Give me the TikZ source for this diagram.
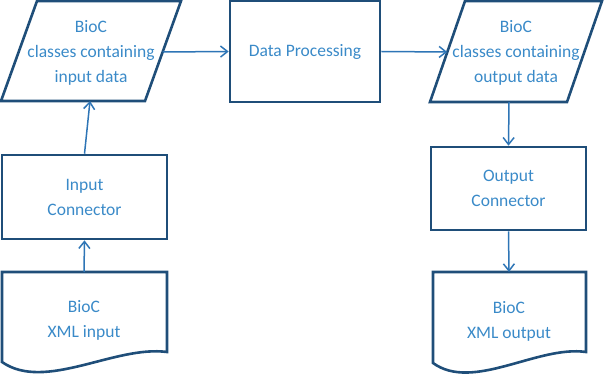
\documentclass[tikz,border=0pt]{standalone}
\usepackage{fontspec}
\setmainfont{Carlito}
\usetikzlibrary{arrows.meta}
\definecolor{bordc}{RGB}{31,78,121}
\definecolor{arrc}{RGB}{46,117,182}
\definecolor{txtc}{RGB}{58,138,200}
\begin{document}
\begin{tikzpicture}[x=1pt,y=-1pt,
  shapeline/.style={draw=bordc, line width=2.6pt, line join=miter},
  lbl/.style={text=txtc, font=\fontsize{17.5}{25}\selectfont, align=center, inner sep=0pt},
  arr/.style={draw=arrc, line width=1.5pt, -{Straight Barb[length=7pt,width=11pt]}}]
\useasboundingbox (0,0) rectangle (604,374);
% parallelograms
\draw[shapeline] (1,101) -- (37,1) -- (181,1) -- (145,101) -- cycle;
\node[lbl] (inpara) at (91,52.5) {BioC\\classes containing\\input data};
\coordinate (inparaE) at (162.6,52);
\coordinate (inparaS) at (90,101);
\draw[shapeline] (430,102) -- (465,1) -- (602,1) -- (567,102) -- cycle;
\node[lbl] (outpara) at (516,52.5) {BioC\\classes containing\\output data};
\coordinate (outparaW) at (447.3,52);
\coordinate (outparaS) at (509,102);
% rectangles
\node[shapeline, lbl, minimum width=150pt, minimum height=101pt] (dp) at (305,51.5) {Data Processing};
\node[shapeline, lbl, minimum width=165pt, minimum height=84pt] (inconn) at (84.5,197) {Input\\Connector};
\node[shapeline, lbl, minimum width=155pt, minimum height=83pt] (outconn) at (508.5,188.5) {Output\\Connector};
% documents
\draw[shapeline] (2,362) -- (2,272) -- (167,272) -- (167,352) .. controls (115,345) and (45,392) .. (2,362) -- cycle;
\node[lbl] (inxml) at (84,320.5) {BioC\\XML input};
\coordinate (inxmlN) at (84,272);
\draw[shapeline] (433,363) -- (433,272) -- (586,272) -- (586,352) .. controls (537.8,345) and (472.9,392) .. (433,363) -- cycle;
\node[lbl] (outxml) at (509,321) {BioC\\XML output};
\coordinate (outxmlN) at (509,272);
% connectors
\draw[arr] (inxmlN) -- (inconn.south);
\draw[arr] (inconn.north) -- (inparaS);
\draw[arr] (inparaE) -- (dp.west);
\draw[arr] (dp.east) -- (outparaW);
\draw[arr] (outparaS) -- (outconn.north);
\draw[arr] (outconn.south) -- (outxmlN);
\end{tikzpicture}
\end{document}
